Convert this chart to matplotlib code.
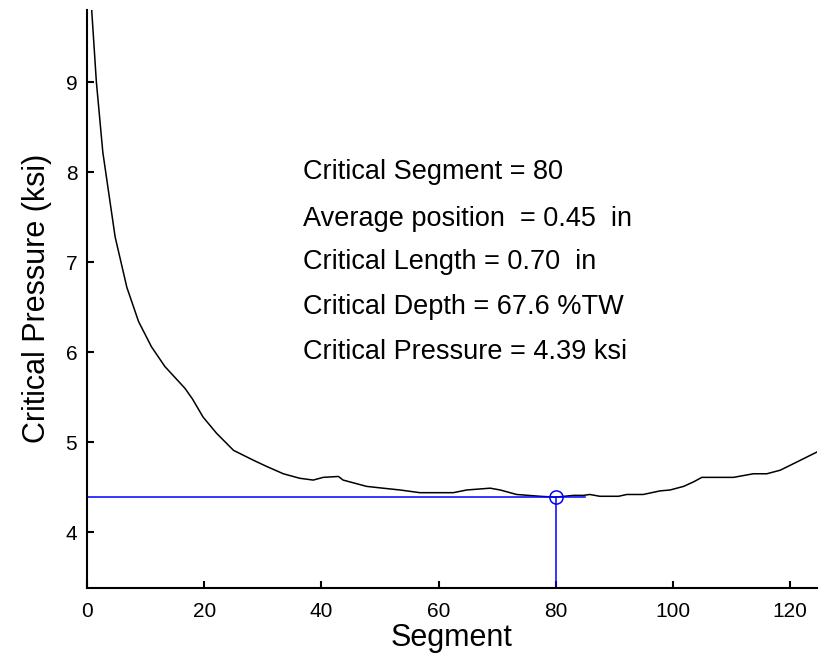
import numpy as np
import matplotlib.pyplot as plt

plt.rcParams['font.family'] = ['Liberation Sans', 'DejaVu Sans']

# critical pressure along the flaw profile
segment = [0.8, 1.6, 2.7, 4.8, 6.8, 8.8, 11.0, 13.3, 15.0, 16.7, 18.0, 19.8,
           22.1, 25.0, 28.4, 30.7, 33.5, 36.3, 38.6, 40.3, 42.9, 43.7, 47.7,
           50.5, 53.4, 56.8, 62.5, 64.8, 68.8, 70.5, 73.3, 77.3, 80.0, 83.0,
           84.7, 85.8, 87.5, 90.7, 92.1, 94.9, 97.8, 99.5, 101.8, 103.5,
           104.9, 110.3, 113.7, 116.0, 118.3, 121.1, 124.5]
pressure = [9.80, 9.00, 8.22, 7.28, 6.72, 6.34, 6.06, 5.84, 5.72, 5.60, 5.48,
            5.28, 5.10, 4.91, 4.80, 4.73, 4.65, 4.60, 4.58, 4.61, 4.62, 4.58,
            4.51, 4.49, 4.47, 4.44, 4.44, 4.47, 4.49, 4.47, 4.42, 4.40, 4.39,
            4.41, 4.41, 4.42, 4.40, 4.40, 4.42, 4.42, 4.46, 4.47, 4.51, 4.56,
            4.61, 4.61, 4.65, 4.65, 4.69, 4.78, 4.89]

crit_seg = 80
crit_p = 4.39
hline_end = 85
info = ["Critical Segment = 80",
        "Average position  = 0.45  in",
        "Critical Length = 0.70  in",
        "Critical Depth = 67.6 %TW",
        "Critical Pressure = 4.39 ksi"]
info_y = [8.0, 7.48, 7.0, 6.5, 6.0]

fig = plt.figure(figsize=(8.27, 6.57), dpi=100)
ax = fig.add_axes([0.1052, 0.1055, 0.8823, 0.8793])

ymin, ymax = 3.385, 9.8
ax.plot(segment, pressure, color='black', lw=1.1)
ax.plot([0, hline_end], [crit_p, crit_p], color='blue', lw=1.1)
ax.plot([crit_seg, crit_seg], [ymin, crit_p], color='blue', lw=1.1)
ax.plot(crit_seg, crit_p, 'o', mfc='none', mec='blue', ms=9.5, mew=1.1)

for s, y in zip(info, info_y):
    ax.text(36.9, y, s, fontsize=19.5, va='center', ha='left')

ax.set_xlim(0, 124.5)
ax.set_ylim(ymin, ymax)
ax.set_xticks([0, 20, 40, 60, 80, 100, 120])
ax.set_yticks([4, 5, 6, 7, 8, 9])
ax.spines['top'].set_visible(False)
ax.spines['right'].set_visible(False)
for sp in ['left', 'bottom']:
    ax.spines[sp].set_linewidth(1.5)
ax.tick_params(direction='in', length=5, width=1.5, labelsize=15, pad=7)
ax.tick_params(axis='x', pad=10)
ax.set_xlabel('Segment', fontsize=22, labelpad=2)
ax.set_ylabel('Critical Pressure (ksi)', fontsize=22, labelpad=10)

fig.savefig('out.png', dpi=100)
